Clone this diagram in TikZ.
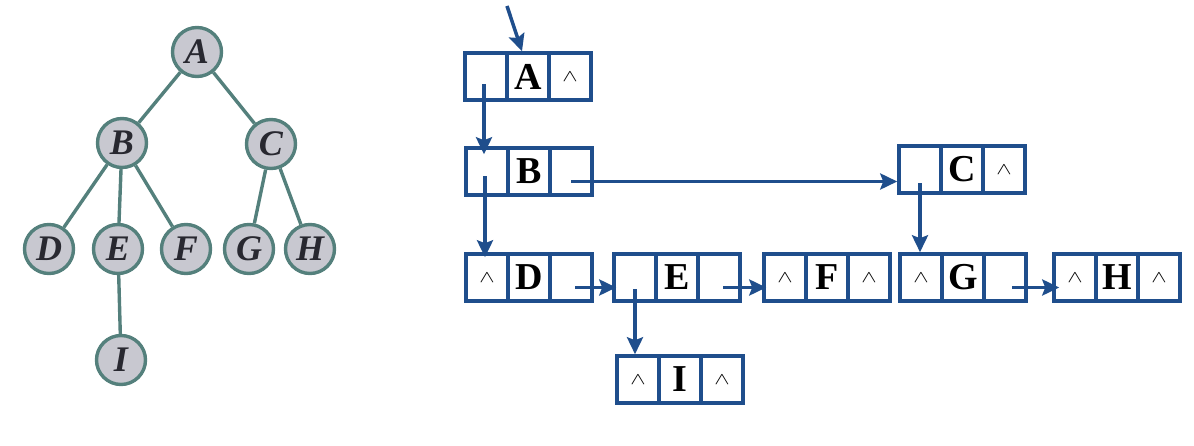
\documentclass[tikz,border=0pt]{standalone}
\usepackage{fontspec}
\setmainfont{Liberation Serif}
\usetikzlibrary{arrows.meta}
\definecolor{boxblue}{RGB}{31,78,140}
\definecolor{treeline}{RGB}{84,128,124}
\definecolor{treefill}{RGB}{200,200,208}
\definecolor{lettercol}{RGB}{40,40,48}
\newcommand{\nilmark}{\raisebox{-4pt}{\scalebox{2.3}[1.7]{$\wedge$}}}
\begin{document}
\begin{tikzpicture}[x=1pt,y=-1pt,
  tnode/.style={circle,draw=treeline,fill=treefill,line width=3.4pt,minimum size=49pt,inner sep=0pt,
    font=\fontsize{36}{36}\selectfont\bfseries\itshape,text=lettercol},
  tedge/.style={draw=treeline,line width=3.4pt},
  cell/.style={draw=boxblue,line width=3.5pt,minimum width=42pt,minimum height=47pt,inner sep=0pt,anchor=center},
  lcell/.style={cell,font=\fontsize{38}{38}\selectfont\bfseries,text=black},
  wcell/.style={cell},
  arr/.style={draw=boxblue,line width=3.5pt,-{Stealth[length=17pt,width=16pt,inset=3pt]}}]
\useasboundingbox (0,0) rectangle (1194,446);
% tree
\node[tnode] (tA) at (197,52) {A};
\node[tnode] (tB) at (122,143) {B};
\node[tnode] (tC) at (271,144) {C};
\node[tnode] (tD) at (49,249) {D};
\node[tnode] (tE) at (118,249) {E};
\node[tnode] (tF) at (186,249) {F};
\node[tnode] (tG) at (249,249) {G};
\node[tnode] (tH) at (310,249) {H};
\node[tnode] (tI) at (121,360) {I};
\path[tedge] (tA) -- (tB);
\path[tedge] (tA) -- (tC);
\path[tedge] (tB) -- (tD);
\path[tedge] (tB) -- (tE);
\path[tedge] (tB) -- (tF);
\path[tedge] (tC) -- (tG);
\path[tedge] (tC) -- (tH);
\path[tedge] (tE) -- (tI);
% records: left x, top y
% A
\node[cell]  (A1) at (465+21,53+23.5) {};
\node[lcell] (A2) at (465+63,53+23.5) {A};
\node[wcell] (A3) at (465+105,53+23.5) {\nilmark};
% B
\node[cell]  (B1) at (466+21,148+23.5) {};
\node[lcell] (B2) at (466+63,148+23.5) {B};
\node[cell]  (B3) at (466+105,148+23.5) {};
% C
\node[cell]  (C1) at (899+21,146+23.5) {};
\node[lcell] (C2) at (899+63,146+23.5) {C};
\node[wcell] (C3) at (899+105,146+23.5) {\nilmark};
% D
\node[wcell] (D1) at (466+21,254+23.5) {\nilmark};
\node[lcell] (D2) at (466+63,254+23.5) {D};
\node[cell]  (D3) at (466+105,254+23.5) {};
% E
\node[cell]  (E1) at (614+21,254+23.5) {};
\node[lcell] (E2) at (614+63,254+23.5) {E};
\node[cell]  (E3) at (614+105,254+23.5) {};
% F
\node[wcell] (F1) at (764+21,254+23.5) {\nilmark};
\node[lcell] (F2) at (764+63,254+23.5) {F};
\node[wcell] (F3) at (764+105,254+23.5) {\nilmark};
% G
\node[wcell] (G1) at (900+21,254+23.5) {\nilmark};
\node[lcell] (G2) at (900+63,254+23.5) {G};
\node[cell]  (G3) at (900+105,254+23.5) {};
% H
\node[wcell] (H1) at (1054+21,254+23.5) {\nilmark};
\node[lcell] (H2) at (1054+63,254+23.5) {H};
\node[wcell] (H3) at (1054+105,254+23.5) {\nilmark};
% I
\node[wcell] (I1) at (617+21,356+23.5) {\nilmark};
\node[lcell] (I2) at (617+63,356+23.5) {I};
\node[wcell] (I3) at (617+105,356+23.5) {\nilmark};
% arrows
\coordinate (head) at (507,6);
\draw[arr] (head) -- ([xshift=-6pt]A2.north);
\draw[arr] ([xshift=-2pt,yshift=-8pt]A1.center) -- ([xshift=-2pt,yshift=-8pt]A1.center |- B1.north);
\draw[arr] ([xshift=-2pt,yshift=-5pt]B1.center) -- ([xshift=-2pt,yshift=-5pt]B1.center |- D1.north);
\draw[arr] ([yshift=-10pt]B3.center) -- ([yshift=-10pt]B3.center -| C1.west);
\draw[arr] ([yshift=-14pt]C1.center) -- (C1.center |- G1.north);
\draw[arr] ([xshift=4pt,yshift=-10pt]D3.center) -- ([xshift=4pt,yshift=-10pt]D3.center -| E1.west);
\draw[arr] ([yshift=-12pt]E1.center) -- (E1.center |- I1.north);
\draw[arr] ([xshift=4pt,yshift=-10pt]E3.center) -- ([xshift=4pt,yshift=-10pt]E3.center -| F1.west);
\draw[arr] ([xshift=7pt,yshift=-10pt]G3.center) -- ([xshift=7pt,yshift=-10pt]G3.center -| H1.west);
\end{tikzpicture}
\end{document}
